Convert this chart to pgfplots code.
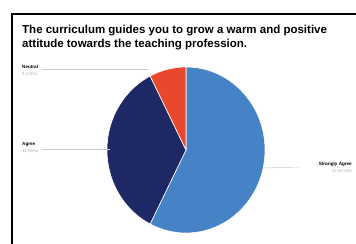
\documentclass[border=0pt]{standalone}
\usepackage{pgfplots}
\pgfplotsset{compat=1.18}
\usepackage{pgfplotstable}
\usepackage{fontspec}
\setmainfont{Liberation Sans}
\definecolor{sagree}{HTML}{4582C6}
\definecolor{agree}{HTML}{1E2864}
\definecolor{neutral}{HTML}{E8482C}
\definecolor{leader}{HTML}{C8C8C8}
\pgfplotstableread{
label value
StronglyAgree 23
Agree 14
Neutral 3
}\piedata
\begin{document}
\begin{tikzpicture}
\begin{axis}[
  at={(0,0)}, anchor=south west,
  width=356bp, height=244bp, scale only axis,
  xmin=0, xmax=356, ymin=0, ymax=244, y dir=reverse,
  hide axis, clip=false]
% frame
\draw[line width=2bp, black] (axis cs:12,244) -- (axis cs:12,14) -- (axis cs:356,14);
% title
\node[anchor=north west, align=left, font=\fontsize{11.5bp}{13.5bp}\selectfont\bfseries, inner sep=0pt]
  at (axis cs:22,25) {The curriculum guides you to grow a warm and positive\\attitude towards the teaching profession.};
% pie slices
\pgfplotstablegetelem{0}{value}\of\piedata \let\va\pgfplotsretval
\pgfplotstablegetelem{1}{value}\of\piedata \let\vb\pgfplotsretval
\pgfplotstablegetelem{2}{value}\of\piedata \let\vc\pgfplotsretval
\pgfmathsetmacro{\tot}{\va+\vb+\vc}
\pgfmathsetmacro{\aA}{90}
\pgfmathsetmacro{\aB}{90-360*\va/\tot}
\pgfmathsetmacro{\aC}{\aB-360*\vb/\tot}
\pgfmathsetmacro{\aD}{\aC-360*\vc/\tot}
\fill[sagree, draw=white, line width=0.6bp] (axis cs:186,150) -- ++(\aA:79bp and 83bp) arc[start angle=\aA, end angle=\aB, x radius=79bp, y radius=83bp] -- cycle;
\fill[agree, draw=white, line width=0.6bp] (axis cs:186,150) -- ++(\aB:79bp and 83bp) arc[start angle=\aB, end angle=\aC, x radius=79bp, y radius=83bp] -- cycle;
\fill[neutral, draw=white, line width=0.6bp] (axis cs:186,150) -- ++(\aC:79bp and 83bp) arc[start angle=\aC, end angle=\aD, x radius=79bp, y radius=83bp] -- cycle;
% leaders
\draw[leader, line width=0.5bp] (axis cs:42,69) -- (axis cs:148,69);
\draw[leader, line width=0.5bp] (axis cs:42,149) -- (axis cs:110,149);
\draw[leader, line width=0.5bp] (axis cs:264,168) -- (axis cs:300,167);
% labels
\node[anchor=west, inner sep=0pt, font=\fontsize{4.6bp}{5bp}\selectfont\bfseries] at (axis cs:22,67) {Neutral};
\node[anchor=west, inner sep=0pt, font=\fontsize{4bp}{5bp}\selectfont, text=gray!70] at (axis cs:22,74) {3 (7.5\%)};
\node[anchor=west, inner sep=0pt, font=\fontsize{4.6bp}{5bp}\selectfont\bfseries] at (axis cs:22,144) {Agree};
\node[anchor=west, inner sep=0pt, font=\fontsize{4bp}{5bp}\selectfont, text=gray!70] at (axis cs:22,151) {14 (35\%)};
\node[anchor=east, inner sep=0pt, font=\fontsize{4.6bp}{5bp}\selectfont\bfseries] at (axis cs:352,164) {Strongly Agree};
\node[anchor=east, inner sep=0pt, font=\fontsize{4bp}{5bp}\selectfont, text=gray!70] at (axis cs:352,171) {23 (57.5\%)};
\end{axis}
\pgfresetboundingbox
\path (0,0) rectangle (356bp,244bp);
\end{tikzpicture}
\end{document}
